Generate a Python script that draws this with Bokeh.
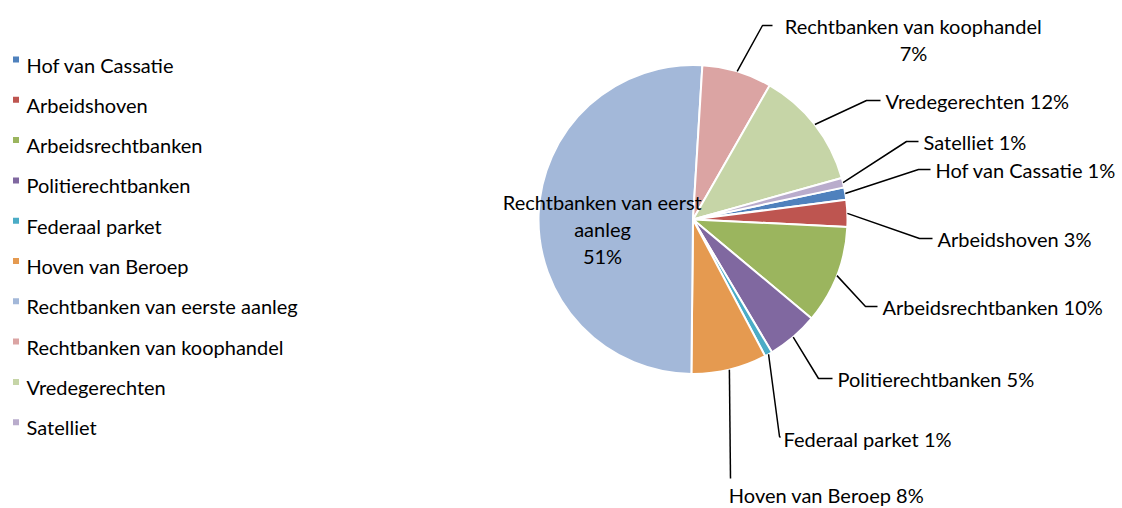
import math
from bokeh.plotting import figure
from bokeh.models import Range1d, ColumnDataSource
from bokeh.embed import file_html
from bokeh.resources import INLINE
from bokeh.core.properties import value

# ---------------- data ----------------
categories = ["Hof van Cassatie", "Arbeidshoven", "Arbeidsrechtbanken",
              "Politierechtbanken", "Federaal parket", "Hoven van Beroep",
              "Rechtbanken van eerste aanleg", "Rechtbanken van koophandel",
              "Vredegerechten", "Satelliet"]
shares = [1.3, 2.8, 10.3, 5.4, 0.8, 7.9, 50.8, 7.3, 12.4, 1.0]
colors = ["#4F81BD", "#BE5550", "#9BB55E", "#8068A0", "#4BACC6", "#E59A50",
          "#A3B8D9", "#DBA4A3", "#C6D5A7", "#B9ACCC"]

# ---------------- layout ----------------
W, H = 1120, 506
FONT = "Lato"
FS = "20px"
CX, CY, R = 692.5, 219.0, 154.5   # page pixel coords of pie
FIRST_ANGLE = 78.0                # clockwise from 12 o'clock

def Y(py):
    return -py

p = figure(width=W, height=H, output_backend="svg", toolbar_location=None,
           x_range=Range1d(0, W), y_range=Range1d(-H, 0),
           min_border=0, outline_line_color=None)
p.axis.visible = False
p.grid.visible = False
p.background_fill_color = "white"
p.border_fill_color = "white"

total = float(sum(shares))
cw0, cw1 = [], []
acc = FIRST_ANGLE
for s in shares:
    a = s / total * 360.0
    cw0.append(acc)
    cw1.append(acc + a)
    acc += a
start = [math.radians(90.0 - b) for b in cw1]
end = [math.radians(90.0 - a) for a in cw0]
pcts = [int(round(s / total * 100)) for s in shares]

src = ColumnDataSource(dict(cat=categories, start=start, end=end, color=colors))
p.wedge(x=CX, y=Y(CY), radius=R, start_angle="start", end_angle="end",
        direction="anticlock", fill_color="color", line_color="white",
        line_width=2, source=src)

# ---------------- data labels ----------------
label_layout = {
    "Rechtbanken van koophandel": dict(elbow=(762, 25), end=(772, 25)),
    "Vredegerechten": dict(elbow=(866, 100), end=(880, 100), text=(885, 100)),
    "Satelliet": dict(elbow=(906, 141), end=(918, 141), text=(923, 141)),
    "Hof van Cassatie": dict(elbow=(918, 169), end=(930, 169), text=(935, 169)),
    "Arbeidshoven": dict(elbow=(919, 238), end=(932, 238), text=(937, 238)),
    "Arbeidsrechtbanken": dict(elbow=(865, 306), end=(877, 306), text=(882, 306)),
    "Politierechtbanken": dict(elbow=(818, 378), end=(832, 378), text=(837, 378)),
    "Federaal parket": dict(elbow=(779, 436), end=(780, 437), text=(783, 438)),
    "Hoven van Beroep": dict(elbow=(730, 478), end=(730, 478)),
}

lx, ly = [], []
tx, ty, tt, ta = [], [], [], []
for i, cat in enumerate(categories):
    mid = math.radians((cw0[i] + cw1[i]) / 2.0)
    sx = CX + R * math.sin(mid)
    sy = CY - R * math.cos(mid)
    lab = f"{cat} {pcts[i]}%"
    if cat in label_layout:
        L = label_layout[cat]
        lx.append([sx, L["elbow"][0], L["end"][0]])
        ly.append([Y(sy), Y(L["elbow"][1]), Y(L["end"][1])])
        if "text" in L:
            tx.append(L["text"][0]); ty.append(Y(L["text"][1])); tt.append(lab); ta.append("left")
    if cat == "Rechtbanken van koophandel":
        tx += [913, 913]; ty += [Y(25), Y(52)]
        tt += [cat, f"{pcts[i]}%"]; ta += ["center", "center"]
    if cat == "Hoven van Beroep":
        tx.append(826); ty.append(Y(494)); tt.append(lab); ta.append("center")
    if cat == "Rechtbanken van eerste aanleg":
        tx += [602, 602, 602]; ty += [Y(201), Y(228), Y(255)]
        tt += ["Rechtbanken van eerst", "aanleg", f"{pcts[i]}%"]
        ta += ["center"] * 3

p.multi_line(xs=lx, ys=ly, line_color="black", line_width=1.5)
p.text(x="x", y="y", text="t", text_align="a", source=ColumnDataSource(dict(x=tx, y=ty, t=tt, a=ta)),
       text_baseline="middle", text_font=value(FONT), text_font_size=FS, text_color="black")

# ---------------- legend ----------------
leg_y = [64 + 40.3 * i for i in range(len(categories))]
p.scatter(x=[15.5] * len(categories), y=[Y(v - 5) for v in leg_y], marker="square",
          size=6, fill_color=colors, line_color=None)
p.text(x=[26] * len(categories), y=[Y(v) for v in leg_y], text=categories,
       text_baseline="middle", text_align="left", text_font=value(FONT),
       text_font_size=FS, text_color="black")

open("out.html", "w").write(file_html(p, INLINE))
